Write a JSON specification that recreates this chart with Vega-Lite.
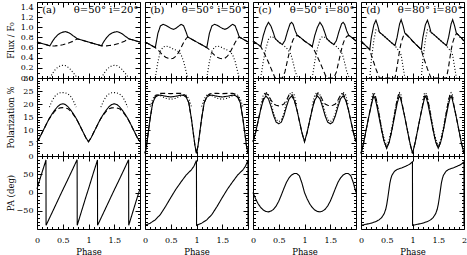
{
"$schema":"https://vega.github.io/schema/vega-lite/v6.json",
"padding":{"left":5,"top":1,"right":0,"bottom":0},
"bounds":"flush",
"columns":4,
"spacing":{"row":0,"column":5},
"datasets":{
"lab":[
{"p":"a","n":"(a)","m":"θ=50° i=20°"},
{"p":"b","n":"(b)","m":"θ=50° i=50°"},
{"p":"c","n":"(c)","m":"θ=50° i=80°"},
{"p":"d","n":"(d)","m":"θ=80° i=80°"}
],
"cv":[
{"p":"a","r":"f","x":0,"t":0.709,"d":0.709},
{"p":"a","r":"f","x":0.1,"t":0.68,"d":0.68},
{"p":"a","r":"f","x":0.2,"t":0.65,"d":0.65},
{"p":"a","r":"f","x":0.25,"t":0.635,"d":0.635,"o":0},
{"p":"a","r":"f","x":0.3,"t":0.723,"d":0.633,"o":0.09},
{"p":"a","r":"f","x":0.35,"t":0.795,"d":0.635,"o":0.16},
{"p":"a","r":"f","x":0.4,"t":0.85,"d":0.64,"o":0.21},
{"p":"a","r":"f","x":0.45,"t":0.885,"d":0.645,"o":0.24},
{"p":"a","r":"f","x":0.5,"t":0.905,"d":0.655,"o":0.25},
{"p":"a","r":"f","x":0.55,"t":0.915,"d":0.67,"o":0.245},
{"p":"a","r":"f","x":0.6,"t":0.9,"d":0.685,"o":0.215},
{"p":"a","r":"f","x":0.65,"t":0.875,"d":0.705,"o":0.17},
{"p":"a","r":"f","x":0.7,"t":0.835,"d":0.725,"o":0.11},
{"p":"a","r":"f","x":0.75,"t":0.8,"d":0.755,"o":0.045},
{"p":"a","r":"f","x":0.78,"t":0.775,"d":0.775,"o":0},
{"p":"a","r":"f","x":0.85,"t":0.754,"d":0.754},
{"p":"a","r":"f","x":0.9,"t":0.739,"d":0.739},
{"p":"a","r":"f","x":1,"t":0.709,"d":0.709},
{"p":"a","r":"f","x":1.1,"t":0.68,"d":0.68},
{"p":"a","r":"f","x":1.2,"t":0.65,"d":0.65},
{"p":"a","r":"f","x":1.25,"t":0.635,"d":0.635,"o":0},
{"p":"a","r":"f","x":1.3,"t":0.723,"d":0.633,"o":0.09},
{"p":"a","r":"f","x":1.35,"t":0.795,"d":0.635,"o":0.16},
{"p":"a","r":"f","x":1.4,"t":0.85,"d":0.64,"o":0.21},
{"p":"a","r":"f","x":1.45,"t":0.885,"d":0.645,"o":0.24},
{"p":"a","r":"f","x":1.5,"t":0.905,"d":0.655,"o":0.25},
{"p":"a","r":"f","x":1.55,"t":0.915,"d":0.67,"o":0.245},
{"p":"a","r":"f","x":1.6,"t":0.9,"d":0.685,"o":0.215},
{"p":"a","r":"f","x":1.65,"t":0.875,"d":0.705,"o":0.17},
{"p":"a","r":"f","x":1.7,"t":0.835,"d":0.725,"o":0.11},
{"p":"a","r":"f","x":1.75,"t":0.8,"d":0.755,"o":0.045},
{"p":"a","r":"f","x":1.78,"t":0.775,"d":0.775,"o":0},
{"p":"a","r":"f","x":1.85,"t":0.754,"d":0.754},
{"p":"a","r":"f","x":1.9,"t":0.739,"d":0.739},
{"p":"a","r":"f","x":2,"t":0.709,"d":0.709},

{"p":"b","r":"f","x":0,"t":0.713,"d":0.713},
{"p":"b","r":"f","x":0.1,"t":0.656,"d":0.656},
{"p":"b","r":"f","x":0.2,"t":0.6,"d":0.6,"o":0},
{"p":"b","r":"f","x":0.25,"t":0.88,"d":0.56,"o":0.32},
{"p":"b","r":"f","x":0.3,"t":1.03,"d":0.5,"o":0.53},
{"p":"b","r":"f","x":0.35,"t":1.06,"d":0.45,"o":0.61},
{"p":"b","r":"f","x":0.4,"t":1.04,"d":0.41,"o":0.63},
{"p":"b","r":"f","x":0.45,"t":1.01,"d":0.39,"o":0.62},
{"p":"b","r":"f","x":0.5,"t":0.98,"d":0.38,"o":0.6},
{"p":"b","r":"f","x":0.55,"t":0.96,"d":0.39,"o":0.57},
{"p":"b","r":"f","x":0.6,"t":0.98,"d":0.43,"o":0.55},
{"p":"b","r":"f","x":0.65,"t":1.02,"d":0.5,"o":0.52},
{"p":"b","r":"f","x":0.7,"t":1.06,"d":0.6,"o":0.46},
{"p":"b","r":"f","x":0.75,"t":1.03,"d":0.7,"o":0.33},
{"p":"b","r":"f","x":0.8,"t":0.9,"d":0.78,"o":0.12},
{"p":"b","r":"f","x":0.83,"t":0.81,"d":0.81,"o":0},
{"p":"b","r":"f","x":0.9,"t":0.77,"d":0.77},
{"p":"b","r":"f","x":1,"t":0.713,"d":0.713},
{"p":"b","r":"f","x":1.1,"t":0.656,"d":0.656},
{"p":"b","r":"f","x":1.2,"t":0.6,"d":0.6,"o":0},
{"p":"b","r":"f","x":1.25,"t":0.88,"d":0.56,"o":0.32},
{"p":"b","r":"f","x":1.3,"t":1.03,"d":0.5,"o":0.53},
{"p":"b","r":"f","x":1.35,"t":1.06,"d":0.45,"o":0.61},
{"p":"b","r":"f","x":1.4,"t":1.04,"d":0.41,"o":0.63},
{"p":"b","r":"f","x":1.45,"t":1.01,"d":0.39,"o":0.62},
{"p":"b","r":"f","x":1.5,"t":0.98,"d":0.38,"o":0.6},
{"p":"b","r":"f","x":1.55,"t":0.96,"d":0.39,"o":0.57},
{"p":"b","r":"f","x":1.6,"t":0.98,"d":0.43,"o":0.55},
{"p":"b","r":"f","x":1.65,"t":1.02,"d":0.5,"o":0.52},
{"p":"b","r":"f","x":1.7,"t":1.06,"d":0.6,"o":0.46},
{"p":"b","r":"f","x":1.75,"t":1.03,"d":0.7,"o":0.33},
{"p":"b","r":"f","x":1.8,"t":0.9,"d":0.78,"o":0.12},
{"p":"b","r":"f","x":1.83,"t":0.81,"d":0.81,"o":0},
{"p":"b","r":"f","x":1.9,"t":0.77,"d":0.77},
{"p":"b","r":"f","x":2,"t":0.713,"d":0.713},

{"p":"c","r":"f","x":0,"t":0.73,"d":0.73},
{"p":"c","r":"f","x":0.1,"t":0.66,"d":0.66},
{"p":"c","r":"f","x":0.15,"t":0.62,"d":0.62,"o":0},
{"p":"c","r":"f","x":0.2,"t":0.84,"d":0.53,"o":0.33},
{"p":"c","r":"f","x":0.25,"t":1,"d":0.42,"o":0.58},
{"p":"c","r":"f","x":0.3,"t":1.1,"d":0.31,"o":0.76},
{"p":"c","r":"f","x":0.35,"t":1.02,"d":0.19,"o":0.82},
{"p":"c","r":"f","x":0.4,"t":0.88,"d":0.07,"o":0.8},
{"p":"c","r":"f","x":0.43,"t":0.78,"d":0,"o":0.78},
{"p":"c","r":"f","x":0.5,"t":0.71,"d":0,"o":0.71},
{"p":"c","r":"f","x":0.57,"t":0.66,"d":0,"o":0.66},
{"p":"c","r":"f","x":0.62,"t":0.74,"d":0.12,"o":0.62},
{"p":"c","r":"f","x":0.67,"t":0.92,"d":0.35,"o":0.57},
{"p":"c","r":"f","x":0.72,"t":1.07,"d":0.57,"o":0.5},
{"p":"c","r":"f","x":0.75,"t":1.1,"d":0.68,"o":0.42},
{"p":"c","r":"f","x":0.78,"t":1.06,"d":0.76,"o":0.3},
{"p":"c","r":"f","x":0.82,"t":0.93,"d":0.82,"o":0.13},
{"p":"c","r":"f","x":0.86,"t":0.84,"d":0.84,"o":0.02},
{"p":"c","r":"f","x":0.88,"t":0.83,"d":0.83,"o":0},
{"p":"c","r":"f","x":0.95,"t":0.775,"d":0.775},
{"p":"c","r":"f","x":1,"t":0.73,"d":0.73},
{"p":"c","r":"f","x":1.1,"t":0.66,"d":0.66},
{"p":"c","r":"f","x":1.15,"t":0.62,"d":0.62,"o":0},
{"p":"c","r":"f","x":1.2,"t":0.84,"d":0.53,"o":0.33},
{"p":"c","r":"f","x":1.25,"t":1,"d":0.42,"o":0.58},
{"p":"c","r":"f","x":1.3,"t":1.1,"d":0.31,"o":0.76},
{"p":"c","r":"f","x":1.35,"t":1.02,"d":0.19,"o":0.82},
{"p":"c","r":"f","x":1.4,"t":0.88,"d":0.07,"o":0.8},
{"p":"c","r":"f","x":1.43,"t":0.78,"d":0,"o":0.78},
{"p":"c","r":"f","x":1.5,"t":0.71,"d":0,"o":0.71},
{"p":"c","r":"f","x":1.57,"t":0.66,"d":0,"o":0.66},
{"p":"c","r":"f","x":1.62,"t":0.74,"d":0.12,"o":0.62},
{"p":"c","r":"f","x":1.67,"t":0.92,"d":0.35,"o":0.57},
{"p":"c","r":"f","x":1.72,"t":1.07,"d":0.57,"o":0.5},
{"p":"c","r":"f","x":1.75,"t":1.1,"d":0.68,"o":0.42},
{"p":"c","r":"f","x":1.78,"t":1.06,"d":0.76,"o":0.3},
{"p":"c","r":"f","x":1.82,"t":0.93,"d":0.82,"o":0.13},
{"p":"c","r":"f","x":1.86,"t":0.84,"d":0.84,"o":0.02},
{"p":"c","r":"f","x":1.88,"t":0.83,"d":0.83,"o":0},
{"p":"c","r":"f","x":1.95,"t":0.775,"d":0.775},
{"p":"c","r":"f","x":2,"t":0.73,"d":0.73},

{"p":"d","r":"f","x":0,"t":0.73,"d":0.73},
{"p":"d","r":"f","x":0.1,"t":0.63,"d":0.63},
{"p":"d","r":"f","x":0.17,"t":0.56,"d":0.56,"o":0},
{"p":"d","r":"f","x":0.2,"t":0.8,"d":0.45,"o":0.35},
{"p":"d","r":"f","x":0.25,"t":1.05,"d":0.3,"o":0.75},
{"p":"d","r":"f","x":0.29,"t":1.14,"d":0.18,"o":0.95},
{"p":"d","r":"f","x":0.32,"t":1.05,"d":0.1,"o":0.95},
{"p":"d","r":"f","x":0.36,"t":0.9,"d":0,"o":0.9},
{"p":"d","r":"f","x":0.4,"t":0.87,"d":0,"o":0.87},
{"p":"d","r":"f","x":0.5,"t":0.78,"d":0,"o":0.78},
{"p":"d","r":"f","x":0.6,"t":0.69,"d":0,"o":0.69},
{"p":"d","r":"f","x":0.66,"t":0.64,"d":0,"o":0.64},
{"p":"d","r":"f","x":0.7,"t":0.8,"d":0.22,"o":0.58},
{"p":"d","r":"f","x":0.75,"t":1.07,"d":0.55,"o":0.52},
{"p":"d","r":"f","x":0.78,"t":1.15,"d":0.7,"o":0.45},
{"p":"d","r":"f","x":0.82,"t":1.02,"d":0.82,"o":0.2},
{"p":"d","r":"f","x":0.85,"t":0.89,"d":0.87,"o":0.02},
{"p":"d","r":"f","x":0.86,"t":0.88,"d":0.88,"o":0},
{"p":"d","r":"f","x":0.95,"t":0.79,"d":0.79},
{"p":"d","r":"f","x":1,"t":0.73,"d":0.73},
{"p":"d","r":"f","x":1.1,"t":0.63,"d":0.63},
{"p":"d","r":"f","x":1.17,"t":0.56,"d":0.56,"o":0},
{"p":"d","r":"f","x":1.2,"t":0.8,"d":0.45,"o":0.35},
{"p":"d","r":"f","x":1.25,"t":1.05,"d":0.3,"o":0.75},
{"p":"d","r":"f","x":1.29,"t":1.14,"d":0.18,"o":0.95},
{"p":"d","r":"f","x":1.32,"t":1.05,"d":0.1,"o":0.95},
{"p":"d","r":"f","x":1.36,"t":0.9,"d":0,"o":0.9},
{"p":"d","r":"f","x":1.4,"t":0.87,"d":0,"o":0.87},
{"p":"d","r":"f","x":1.5,"t":0.78,"d":0,"o":0.78},
{"p":"d","r":"f","x":1.6,"t":0.69,"d":0,"o":0.69},
{"p":"d","r":"f","x":1.66,"t":0.64,"d":0,"o":0.64},
{"p":"d","r":"f","x":1.7,"t":0.8,"d":0.22,"o":0.58},
{"p":"d","r":"f","x":1.75,"t":1.07,"d":0.55,"o":0.52},
{"p":"d","r":"f","x":1.78,"t":1.15,"d":0.7,"o":0.45},
{"p":"d","r":"f","x":1.82,"t":1.02,"d":0.82,"o":0.2},
{"p":"d","r":"f","x":1.85,"t":0.89,"d":0.87,"o":0.02},
{"p":"d","r":"f","x":1.86,"t":0.88,"d":0.88,"o":0},
{"p":"d","r":"f","x":1.95,"t":0.79,"d":0.79},
{"p":"d","r":"f","x":2,"t":0.73,"d":0.73},

{"p":"a","r":"q","x":0,"t":5.5,"d":5.5},
{"p":"a","r":"q","x":0.05,"t":7,"d":7},
{"p":"a","r":"q","x":0.1,"t":9,"d":9},
{"p":"a","r":"q","x":0.15,"t":11,"d":11},
{"p":"a","r":"q","x":0.2,"t":13,"d":13},
{"p":"a","r":"q","x":0.24,"t":14.5,"d":14.4,"o":18.8},
{"p":"a","r":"q","x":0.3,"t":16.4,"d":16.1,"o":21.5},
{"p":"a","r":"q","x":0.35,"t":17.8,"d":17.3,"o":23},
{"p":"a","r":"q","x":0.4,"t":19,"d":18.2,"o":23.9},
{"p":"a","r":"q","x":0.45,"t":19.8,"d":18.5,"o":24.3},
{"p":"a","r":"q","x":0.5,"t":20.1,"d":18.6,"o":24.4},
{"p":"a","r":"q","x":0.55,"t":19.8,"d":18.5,"o":24.3},
{"p":"a","r":"q","x":0.6,"t":19,"d":18.2,"o":23.9},
{"p":"a","r":"q","x":0.65,"t":17.8,"d":17.3,"o":23},
{"p":"a","r":"q","x":0.7,"t":16.4,"d":16.1,"o":21.5},
{"p":"a","r":"q","x":0.76,"t":14.5,"d":14.4,"o":18.8},
{"p":"a","r":"q","x":0.8,"t":13,"d":13},
{"p":"a","r":"q","x":0.85,"t":11,"d":11},
{"p":"a","r":"q","x":0.9,"t":9,"d":9},
{"p":"a","r":"q","x":0.95,"t":7,"d":7},
{"p":"a","r":"q","x":1,"t":5.5,"d":5.5},
{"p":"a","r":"q","x":1.05,"t":7,"d":7},
{"p":"a","r":"q","x":1.1,"t":9,"d":9},
{"p":"a","r":"q","x":1.15,"t":11,"d":11},
{"p":"a","r":"q","x":1.2,"t":13,"d":13},
{"p":"a","r":"q","x":1.24,"t":14.5,"d":14.4,"o":18.8},
{"p":"a","r":"q","x":1.3,"t":16.4,"d":16.1,"o":21.5},
{"p":"a","r":"q","x":1.35,"t":17.8,"d":17.3,"o":23},
{"p":"a","r":"q","x":1.4,"t":19,"d":18.2,"o":23.9},
{"p":"a","r":"q","x":1.45,"t":19.8,"d":18.5,"o":24.3},
{"p":"a","r":"q","x":1.5,"t":20.1,"d":18.6,"o":24.4},
{"p":"a","r":"q","x":1.55,"t":19.8,"d":18.5,"o":24.3},
{"p":"a","r":"q","x":1.6,"t":19,"d":18.2,"o":23.9},
{"p":"a","r":"q","x":1.65,"t":17.8,"d":17.3,"o":23},
{"p":"a","r":"q","x":1.7,"t":16.4,"d":16.1,"o":21.5},
{"p":"a","r":"q","x":1.76,"t":14.5,"d":14.4,"o":18.8},
{"p":"a","r":"q","x":1.8,"t":13,"d":13},
{"p":"a","r":"q","x":1.85,"t":11,"d":11},
{"p":"a","r":"q","x":1.9,"t":9,"d":9},
{"p":"a","r":"q","x":1.95,"t":7,"d":7},
{"p":"a","r":"q","x":2,"t":5.5,"d":5.5},

{"p":"b","r":"q","x":0,"t":1,"d":1},
{"p":"b","r":"q","x":0.03,"t":4,"d":4},
{"p":"b","r":"q","x":0.06,"t":8.5,"d":8.5},
{"p":"b","r":"q","x":0.1,"t":14.5,"d":14.5,"o":19},
{"p":"b","r":"q","x":0.15,"t":20.5,"d":20.5,"o":22},
{"p":"b","r":"q","x":0.2,"t":22.6,"d":23,"o":23.4},
{"p":"b","r":"q","x":0.25,"t":23.3,"d":23.8,"o":23.6},
{"p":"b","r":"q","x":0.3,"t":23.4,"d":24.1,"o":23.2},
{"p":"b","r":"q","x":0.4,"t":23,"d":24.1,"o":22.2},
{"p":"b","r":"q","x":0.5,"t":22.7,"d":24,"o":21.8},
{"p":"b","r":"q","x":0.6,"t":23,"d":24.1,"o":22.2},
{"p":"b","r":"q","x":0.7,"t":23.4,"d":24.1,"o":23.2},
{"p":"b","r":"q","x":0.75,"t":23.3,"d":23.8,"o":23.6},
{"p":"b","r":"q","x":0.8,"t":22.6,"d":23,"o":23.4},
{"p":"b","r":"q","x":0.85,"t":20.5,"d":20.5,"o":22},
{"p":"b","r":"q","x":0.9,"t":14.5,"d":14.5,"o":19},
{"p":"b","r":"q","x":0.94,"t":8.5,"d":8.5},
{"p":"b","r":"q","x":0.97,"t":4,"d":4},
{"p":"b","r":"q","x":1,"t":1,"d":1},
{"p":"b","r":"q","x":1.03,"t":4,"d":4},
{"p":"b","r":"q","x":1.06,"t":8.5,"d":8.5},
{"p":"b","r":"q","x":1.1,"t":14.5,"d":14.5,"o":19},
{"p":"b","r":"q","x":1.15,"t":20.5,"d":20.5,"o":22},
{"p":"b","r":"q","x":1.2,"t":22.6,"d":23,"o":23.4},
{"p":"b","r":"q","x":1.25,"t":23.3,"d":23.8,"o":23.6},
{"p":"b","r":"q","x":1.3,"t":23.4,"d":24.1,"o":23.2},
{"p":"b","r":"q","x":1.4,"t":23,"d":24.1,"o":22.2},
{"p":"b","r":"q","x":1.5,"t":22.7,"d":24,"o":21.8},
{"p":"b","r":"q","x":1.6,"t":23,"d":24.1,"o":22.2},
{"p":"b","r":"q","x":1.7,"t":23.4,"d":24.1,"o":23.2},
{"p":"b","r":"q","x":1.75,"t":23.3,"d":23.8,"o":23.6},
{"p":"b","r":"q","x":1.8,"t":22.6,"d":23,"o":23.4},
{"p":"b","r":"q","x":1.85,"t":20.5,"d":20.5,"o":22},
{"p":"b","r":"q","x":1.9,"t":14.5,"d":14.5,"o":19},
{"p":"b","r":"q","x":1.94,"t":8.5,"d":8.5},
{"p":"b","r":"q","x":1.97,"t":4,"d":4},
{"p":"b","r":"q","x":2,"t":1,"d":1},

{"p":"c","r":"q","x":0,"t":5.5,"d":5.5},
{"p":"c","r":"q","x":0.05,"t":9,"d":9},
{"p":"c","r":"q","x":0.1,"t":13.5,"d":13.5},
{"p":"c","r":"q","x":0.15,"t":18,"d":18,"o":19.5},
{"p":"c","r":"q","x":0.2,"t":21.5,"d":22,"o":23.5},
{"p":"c","r":"q","x":0.25,"t":23.1,"d":24,"o":24.6},
{"p":"c","r":"q","x":0.3,"t":22,"d":23.5,"o":23.5},
{"p":"c","r":"q","x":0.35,"t":19,"d":21.5,"o":20.5},
{"p":"c","r":"q","x":0.4,"t":15.5,"d":20,"o":16.5},
{"p":"c","r":"q","x":0.45,"t":13,"d":19.5,"o":14},
{"p":"c","r":"q","x":0.5,"t":12.4,"d":19.3,"o":13.2},
{"p":"c","r":"q","x":0.55,"t":13,"d":19.5,"o":14},
{"p":"c","r":"q","x":0.6,"t":15.5,"d":20,"o":16.5},
{"p":"c","r":"q","x":0.65,"t":19,"d":21.5,"o":20.5},
{"p":"c","r":"q","x":0.7,"t":22,"d":23.5,"o":23.5},
{"p":"c","r":"q","x":0.75,"t":23.1,"d":24,"o":24.6},
{"p":"c","r":"q","x":0.8,"t":21.5,"d":22,"o":23.5},
{"p":"c","r":"q","x":0.85,"t":18,"d":18,"o":19.5},
{"p":"c","r":"q","x":0.9,"t":13.5,"d":13.5},
{"p":"c","r":"q","x":0.95,"t":9,"d":9},
{"p":"c","r":"q","x":1,"t":5.5,"d":5.5},
{"p":"c","r":"q","x":1.05,"t":9,"d":9},
{"p":"c","r":"q","x":1.1,"t":13.5,"d":13.5},
{"p":"c","r":"q","x":1.15,"t":18,"d":18,"o":19.5},
{"p":"c","r":"q","x":1.2,"t":21.5,"d":22,"o":23.5},
{"p":"c","r":"q","x":1.25,"t":23.1,"d":24,"o":24.6},
{"p":"c","r":"q","x":1.3,"t":22,"d":23.5,"o":23.5},
{"p":"c","r":"q","x":1.35,"t":19,"d":21.5,"o":20.5},
{"p":"c","r":"q","x":1.4,"t":15.5,"d":20,"o":16.5},
{"p":"c","r":"q","x":1.45,"t":13,"d":19.5,"o":14},
{"p":"c","r":"q","x":1.5,"t":12.4,"d":19.3,"o":13.2},
{"p":"c","r":"q","x":1.55,"t":13,"d":19.5,"o":14},
{"p":"c","r":"q","x":1.6,"t":15.5,"d":20,"o":16.5},
{"p":"c","r":"q","x":1.65,"t":19,"d":21.5,"o":20.5},
{"p":"c","r":"q","x":1.7,"t":22,"d":23.5,"o":23.5},
{"p":"c","r":"q","x":1.75,"t":23.1,"d":24,"o":24.6},
{"p":"c","r":"q","x":1.8,"t":21.5,"d":22,"o":23.5},
{"p":"c","r":"q","x":1.85,"t":18,"d":18,"o":19.5},
{"p":"c","r":"q","x":1.9,"t":13.5,"d":13.5},
{"p":"c","r":"q","x":1.95,"t":9,"d":9},
{"p":"c","r":"q","x":2,"t":5.5,"d":5.5},

{"p":"d","r":"q","x":0,"t":1,"d":1},
{"p":"d","r":"q","x":0.05,"t":5,"d":5},
{"p":"d","r":"q","x":0.1,"t":10,"d":10},
{"p":"d","r":"q","x":0.15,"t":15,"d":15},
{"p":"d","r":"q","x":0.2,"t":19.5,"d":20,"o":21.5},
{"p":"d","r":"q","x":0.23,"t":22,"d":22.8,"o":24},
{"p":"d","r":"q","x":0.25,"t":23,"d":23.8,"o":24.4},
{"p":"d","r":"q","x":0.27,"t":22.3,"d":23.6,"o":23.8},
{"p":"d","r":"q","x":0.3,"t":20,"d":21.5,"o":21.5},
{"p":"d","r":"q","x":0.35,"t":15,"d":16,"o":16.5},
{"p":"d","r":"q","x":0.4,"t":10,"d":10,"o":11},
{"p":"d","r":"q","x":0.45,"t":5.5,"d":5.5,"o":6.5},
{"p":"d","r":"q","x":0.5,"t":3,"d":3,"o":4},
{"p":"d","r":"q","x":0.55,"t":5.5,"d":5.5,"o":6.5},
{"p":"d","r":"q","x":0.6,"t":10,"d":10,"o":11},
{"p":"d","r":"q","x":0.65,"t":15,"d":16,"o":16.5},
{"p":"d","r":"q","x":0.7,"t":20,"d":21.5,"o":21.5},
{"p":"d","r":"q","x":0.73,"t":22.3,"d":23.6,"o":23.8},
{"p":"d","r":"q","x":0.75,"t":23,"d":23.8,"o":24.4},
{"p":"d","r":"q","x":0.77,"t":22,"d":22.8,"o":24},
{"p":"d","r":"q","x":0.8,"t":19.5,"d":20,"o":21.5},
{"p":"d","r":"q","x":0.85,"t":15,"d":15},
{"p":"d","r":"q","x":0.9,"t":10,"d":10},
{"p":"d","r":"q","x":0.95,"t":5,"d":5},
{"p":"d","r":"q","x":1,"t":1,"d":1},
{"p":"d","r":"q","x":1.05,"t":5,"d":5},
{"p":"d","r":"q","x":1.1,"t":10,"d":10},
{"p":"d","r":"q","x":1.15,"t":15,"d":15},
{"p":"d","r":"q","x":1.2,"t":19.5,"d":20,"o":21.5},
{"p":"d","r":"q","x":1.23,"t":22,"d":22.8,"o":24},
{"p":"d","r":"q","x":1.25,"t":23,"d":23.8,"o":24.4},
{"p":"d","r":"q","x":1.27,"t":22.3,"d":23.6,"o":23.8},
{"p":"d","r":"q","x":1.3,"t":20,"d":21.5,"o":21.5},
{"p":"d","r":"q","x":1.35,"t":15,"d":16,"o":16.5},
{"p":"d","r":"q","x":1.4,"t":10,"d":10,"o":11},
{"p":"d","r":"q","x":1.45,"t":5.5,"d":5.5,"o":6.5},
{"p":"d","r":"q","x":1.5,"t":3,"d":3,"o":4},
{"p":"d","r":"q","x":1.55,"t":5.5,"d":5.5,"o":6.5},
{"p":"d","r":"q","x":1.6,"t":10,"d":10,"o":11},
{"p":"d","r":"q","x":1.65,"t":15,"d":16,"o":16.5},
{"p":"d","r":"q","x":1.7,"t":20,"d":21.5,"o":21.5},
{"p":"d","r":"q","x":1.73,"t":22.3,"d":23.6,"o":23.8},
{"p":"d","r":"q","x":1.75,"t":23,"d":23.8,"o":24.4},
{"p":"d","r":"q","x":1.77,"t":22,"d":22.8,"o":24},
{"p":"d","r":"q","x":1.8,"t":19.5,"d":20,"o":21.5},
{"p":"d","r":"q","x":1.85,"t":15,"d":15},
{"p":"d","r":"q","x":1.9,"t":10,"d":10},
{"p":"d","r":"q","x":1.95,"t":5,"d":5},
{"p":"d","r":"q","x":2,"t":1,"d":1},

{"p":"a","r":"a","x":0,"t":10},
{"p":"a","r":"a","x":0.05,"t":33},
{"p":"a","r":"a","x":0.1,"t":56},
{"p":"a","r":"a","x":0.15,"t":78},
{"p":"a","r":"a","x":0.174,"t":89},
{"p":"a","r":"a","x":0.176,"t":-90},
{"p":"a","r":"a","x":0.3,"t":-53},
{"p":"a","r":"a","x":0.4,"t":-23},
{"p":"a","r":"a","x":0.5,"t":7},
{"p":"a","r":"a","x":0.6,"t":36},
{"p":"a","r":"a","x":0.7,"t":66},
{"p":"a","r":"a","x":0.779,"t":90},
{"p":"a","r":"a","x":0.781,"t":-90},
{"p":"a","r":"a","x":0.85,"t":-58},
{"p":"a","r":"a","x":0.9,"t":-35},
{"p":"a","r":"a","x":0.95,"t":-12},
{"p":"a","r":"a","x":1,"t":10},
{"p":"a","r":"a","x":1.05,"t":33},
{"p":"a","r":"a","x":1.1,"t":56},
{"p":"a","r":"a","x":1.15,"t":78},
{"p":"a","r":"a","x":1.174,"t":89},
{"p":"a","r":"a","x":1.176,"t":-90},
{"p":"a","r":"a","x":1.3,"t":-53},
{"p":"a","r":"a","x":1.4,"t":-23},
{"p":"a","r":"a","x":1.5,"t":7},
{"p":"a","r":"a","x":1.6,"t":36},
{"p":"a","r":"a","x":1.7,"t":66},
{"p":"a","r":"a","x":1.779,"t":90},
{"p":"a","r":"a","x":1.781,"t":-90},
{"p":"a","r":"a","x":1.85,"t":-58},
{"p":"a","r":"a","x":1.9,"t":-35},
{"p":"a","r":"a","x":1.95,"t":-12},
{"p":"a","r":"a","x":2,"t":10},

{"p":"b","r":"a","x":0,"t":-90},
{"p":"b","r":"a","x":0.1,"t":-84},
{"p":"b","r":"a","x":0.2,"t":-75},
{"p":"b","r":"a","x":0.3,"t":-60},
{"p":"b","r":"a","x":0.4,"t":-38},
{"p":"b","r":"a","x":0.5,"t":-14},
{"p":"b","r":"a","x":0.6,"t":9},
{"p":"b","r":"a","x":0.7,"t":29},
{"p":"b","r":"a","x":0.8,"t":48},
{"p":"b","r":"a","x":0.9,"t":62},
{"p":"b","r":"a","x":0.95,"t":72},
{"p":"b","r":"a","x":0.999,"t":88},
{"p":"b","r":"a","x":1.001,"t":-90},
{"p":"b","r":"a","x":1.1,"t":-84},
{"p":"b","r":"a","x":1.2,"t":-75},
{"p":"b","r":"a","x":1.3,"t":-60},
{"p":"b","r":"a","x":1.4,"t":-38},
{"p":"b","r":"a","x":1.5,"t":-14},
{"p":"b","r":"a","x":1.6,"t":9},
{"p":"b","r":"a","x":1.7,"t":29},
{"p":"b","r":"a","x":1.8,"t":48},
{"p":"b","r":"a","x":1.9,"t":62},
{"p":"b","r":"a","x":1.95,"t":72},
{"p":"b","r":"a","x":1.999,"t":88},
{"p":"b","r":"a","x":2,"t":-90},

{"p":"c","r":"a","x":0,"t":0},
{"p":"c","r":"a","x":0.05,"t":-17},
{"p":"c","r":"a","x":0.1,"t":-31},
{"p":"c","r":"a","x":0.15,"t":-41},
{"p":"c","r":"a","x":0.2,"t":-48},
{"p":"c","r":"a","x":0.25,"t":-52},
{"p":"c","r":"a","x":0.3,"t":-53},
{"p":"c","r":"a","x":0.35,"t":-51},
{"p":"c","r":"a","x":0.4,"t":-46},
{"p":"c","r":"a","x":0.45,"t":-37},
{"p":"c","r":"a","x":0.5,"t":-24},
{"p":"c","r":"a","x":0.55,"t":-7},
{"p":"c","r":"a","x":0.6,"t":11},
{"p":"c","r":"a","x":0.65,"t":28},
{"p":"c","r":"a","x":0.7,"t":40},
{"p":"c","r":"a","x":0.75,"t":48},
{"p":"c","r":"a","x":0.8,"t":52},
{"p":"c","r":"a","x":0.85,"t":52},
{"p":"c","r":"a","x":0.9,"t":46},
{"p":"c","r":"a","x":0.95,"t":26},
{"p":"c","r":"a","x":1,"t":0},
{"p":"c","r":"a","x":1.05,"t":-17},
{"p":"c","r":"a","x":1.1,"t":-31},
{"p":"c","r":"a","x":1.15,"t":-41},
{"p":"c","r":"a","x":1.2,"t":-48},
{"p":"c","r":"a","x":1.25,"t":-52},
{"p":"c","r":"a","x":1.3,"t":-53},
{"p":"c","r":"a","x":1.35,"t":-51},
{"p":"c","r":"a","x":1.4,"t":-46},
{"p":"c","r":"a","x":1.45,"t":-37},
{"p":"c","r":"a","x":1.5,"t":-24},
{"p":"c","r":"a","x":1.55,"t":-7},
{"p":"c","r":"a","x":1.6,"t":11},
{"p":"c","r":"a","x":1.65,"t":28},
{"p":"c","r":"a","x":1.7,"t":40},
{"p":"c","r":"a","x":1.75,"t":48},
{"p":"c","r":"a","x":1.8,"t":52},
{"p":"c","r":"a","x":1.85,"t":52},
{"p":"c","r":"a","x":1.9,"t":46},
{"p":"c","r":"a","x":1.95,"t":26},
{"p":"c","r":"a","x":2,"t":0},

{"p":"d","r":"a","x":0,"t":-90},
{"p":"d","r":"a","x":0.1,"t":-87},
{"p":"d","r":"a","x":0.2,"t":-84},
{"p":"d","r":"a","x":0.3,"t":-79},
{"p":"d","r":"a","x":0.35,"t":-75},
{"p":"d","r":"a","x":0.4,"t":-69},
{"p":"d","r":"a","x":0.45,"t":-58},
{"p":"d","r":"a","x":0.48,"t":-46},
{"p":"d","r":"a","x":0.5,"t":-33},
{"p":"d","r":"a","x":0.52,"t":-15},
{"p":"d","r":"a","x":0.54,"t":5},
{"p":"d","r":"a","x":0.56,"t":25},
{"p":"d","r":"a","x":0.58,"t":38},
{"p":"d","r":"a","x":0.6,"t":47},
{"p":"d","r":"a","x":0.65,"t":58},
{"p":"d","r":"a","x":0.7,"t":63},
{"p":"d","r":"a","x":0.8,"t":68},
{"p":"d","r":"a","x":0.9,"t":74},
{"p":"d","r":"a","x":0.95,"t":78},
{"p":"d","r":"a","x":0.999,"t":84},
{"p":"d","r":"a","x":1.001,"t":-90},
{"p":"d","r":"a","x":1.1,"t":-87},
{"p":"d","r":"a","x":1.2,"t":-84},
{"p":"d","r":"a","x":1.3,"t":-79},
{"p":"d","r":"a","x":1.35,"t":-75},
{"p":"d","r":"a","x":1.4,"t":-69},
{"p":"d","r":"a","x":1.45,"t":-58},
{"p":"d","r":"a","x":1.48,"t":-46},
{"p":"d","r":"a","x":1.5,"t":-33},
{"p":"d","r":"a","x":1.52,"t":-15},
{"p":"d","r":"a","x":1.54,"t":5},
{"p":"d","r":"a","x":1.56,"t":25},
{"p":"d","r":"a","x":1.58,"t":38},
{"p":"d","r":"a","x":1.6,"t":47},
{"p":"d","r":"a","x":1.65,"t":58},
{"p":"d","r":"a","x":1.7,"t":63},
{"p":"d","r":"a","x":1.8,"t":68},
{"p":"d","r":"a","x":1.9,"t":74},
{"p":"d","r":"a","x":1.95,"t":78},
{"p":"d","r":"a","x":1.999,"t":84},
{"p":"d","r":"a","x":2,"t":-90}
]
},
"concat":[
{"width":103,"height":76,"layer":[
 {"data":{"name":"cv"},"transform":[{"filter":"datum.p=='a'&&datum.r=='f'"},{"fold":["t","d","o"],"as":["s","v"]}],
  "mark":{"type":"line","stroke":"black","strokeWidth":1.1,"invalid":"break-paths-show-domains"},
  "encoding":{
   "x":{"field":"x","type":"quantitative","scale":{"domain":[0,2],"nice":false},"axis":{"orient":"bottom","values":[0,0.1,0.2,0.3,0.4,0.5,0.6,0.7,0.8,0.9,1,1.1,1.2,1.3,1.4,1.5,1.6,1.7,1.8,1.9,2],"tickSize":{"condition":{"test":"abs(datum.value*2-round(datum.value*2))<0.01","value":-5},"value":-2.5},"labels":false,"title":null}},
   "y":{"field":"v","type":"quantitative","scale":{"domain":[0,1.5],"nice":false},"axis":{"orient":"left","values":[0,0.1,0.2,0.3,0.4,0.5,0.6,0.7,0.8,0.9,1,1.1,1.2,1.3,1.4],"tickSize":{"condition":{"test":"abs(datum.value*5-round(datum.value*5))<0.01","value":-5},"value":-2.5},"labelExpr":"abs(datum.value*5-round(datum.value*5))<0.01?format(datum.value,'.1f'):''","labelPadding":9,"title":"Flux / F₀","titleX":-22}},
   "strokeDash":{"field":"s","type":"nominal","scale":{"domain":["t","d","o"],"range":[[1,0],[5,3],[1,2]]},"legend":null}}},
 {"data":{"name":"cv"},"transform":[{"filter":"datum.p=='a'&&datum.r=='f'"}],"mark":{"type":"point","opacity":0},
  "encoding":{
   "x":{"field":"x","type":"quantitative","scale":{"domain":[0,2],"nice":false},"axis":{"orient":"top","values":[0,0.1,0.2,0.3,0.4,0.5,0.6,0.7,0.8,0.9,1,1.1,1.2,1.3,1.4,1.5,1.6,1.7,1.8,1.9,2],"tickSize":{"condition":{"test":"abs(datum.value*2-round(datum.value*2))<0.01","value":-5},"value":-2.5},"labels":false,"title":null}},
   "y":{"field":"t","type":"quantitative","scale":{"domain":[0,1.5],"nice":false},"axis":{"orient":"right","values":[0,0.1,0.2,0.3,0.4,0.5,0.6,0.7,0.8,0.9,1,1.1,1.2,1.3,1.4],"tickSize":{"condition":{"test":"abs(datum.value*5-round(datum.value*5))<0.01","value":-5},"value":-2.5},"labels":false,"title":null}}}},
 {"data":{"name":"lab"},"transform":[{"filter":"datum.p=='a'"}],"mark":{"type":"text","align":"left","baseline":"alphabetic","fontSize":10,"font":"DejaVu Serif"},"encoding":{"x":{"datum":0.1,"axis":null},"y":{"datum":1.29,"axis":null},"text":{"field":"n"}}},
 {"data":{"name":"lab"},"transform":[{"filter":"datum.p=='a'"}],"mark":{"type":"text","align":"right","baseline":"alphabetic","fontSize":10,"font":"DejaVu Serif"},"encoding":{"x":{"datum":1.97,"axis":null},"y":{"datum":1.29,"axis":null},"text":{"field":"m"}}}
]},
{"width":103,"height":76,"layer":[
 {"data":{"name":"cv"},"transform":[{"filter":"datum.p=='b'&&datum.r=='f'"},{"fold":["t","d","o"],"as":["s","v"]}],
  "mark":{"type":"line","stroke":"black","strokeWidth":1.1,"invalid":"break-paths-show-domains"},
  "encoding":{
   "x":{"field":"x","type":"quantitative","scale":{"domain":[0,2],"nice":false},"axis":{"orient":"bottom","values":[0,0.1,0.2,0.3,0.4,0.5,0.6,0.7,0.8,0.9,1,1.1,1.2,1.3,1.4,1.5,1.6,1.7,1.8,1.9,2],"tickSize":{"condition":{"test":"abs(datum.value*2-round(datum.value*2))<0.01","value":-5},"value":-2.5},"labels":false,"title":null}},
   "y":{"field":"v","type":"quantitative","scale":{"domain":[0,1.5],"nice":false},"axis":{"orient":"left","values":[0,0.1,0.2,0.3,0.4,0.5,0.6,0.7,0.8,0.9,1,1.1,1.2,1.3,1.4],"tickSize":{"condition":{"test":"abs(datum.value*5-round(datum.value*5))<0.01","value":-5},"value":-2.5},"labels":false,"title":null}},
   "strokeDash":{"field":"s","type":"nominal","scale":{"domain":["t","d","o"],"range":[[1,0],[5,3],[1,2]]},"legend":null}}},
 {"data":{"name":"cv"},"transform":[{"filter":"datum.p=='b'&&datum.r=='f'"}],"mark":{"type":"point","opacity":0},
  "encoding":{
   "x":{"field":"x","type":"quantitative","scale":{"domain":[0,2],"nice":false},"axis":{"orient":"top","values":[0,0.1,0.2,0.3,0.4,0.5,0.6,0.7,0.8,0.9,1,1.1,1.2,1.3,1.4,1.5,1.6,1.7,1.8,1.9,2],"tickSize":{"condition":{"test":"abs(datum.value*2-round(datum.value*2))<0.01","value":-5},"value":-2.5},"labels":false,"title":null}},
   "y":{"field":"t","type":"quantitative","scale":{"domain":[0,1.5],"nice":false},"axis":{"orient":"right","values":[0,0.1,0.2,0.3,0.4,0.5,0.6,0.7,0.8,0.9,1,1.1,1.2,1.3,1.4],"tickSize":{"condition":{"test":"abs(datum.value*5-round(datum.value*5))<0.01","value":-5},"value":-2.5},"labels":false,"title":null}}}},
 {"data":{"name":"lab"},"transform":[{"filter":"datum.p=='b'"}],"mark":{"type":"text","align":"left","baseline":"alphabetic","fontSize":10,"font":"DejaVu Serif"},"encoding":{"x":{"datum":0.1,"axis":null},"y":{"datum":1.29,"axis":null},"text":{"field":"n"}}},
 {"data":{"name":"lab"},"transform":[{"filter":"datum.p=='b'"}],"mark":{"type":"text","align":"right","baseline":"alphabetic","fontSize":10,"font":"DejaVu Serif"},"encoding":{"x":{"datum":1.97,"axis":null},"y":{"datum":1.29,"axis":null},"text":{"field":"m"}}}
]},
{"width":103,"height":76,"layer":[
 {"data":{"name":"cv"},"transform":[{"filter":"datum.p=='c'&&datum.r=='f'"},{"fold":["t","d","o"],"as":["s","v"]}],
  "mark":{"type":"line","stroke":"black","strokeWidth":1.1,"invalid":"break-paths-show-domains"},
  "encoding":{
   "x":{"field":"x","type":"quantitative","scale":{"domain":[0,2],"nice":false},"axis":{"orient":"bottom","values":[0,0.1,0.2,0.3,0.4,0.5,0.6,0.7,0.8,0.9,1,1.1,1.2,1.3,1.4,1.5,1.6,1.7,1.8,1.9,2],"tickSize":{"condition":{"test":"abs(datum.value*2-round(datum.value*2))<0.01","value":-5},"value":-2.5},"labels":false,"title":null}},
   "y":{"field":"v","type":"quantitative","scale":{"domain":[0,1.5],"nice":false},"axis":{"orient":"left","values":[0,0.1,0.2,0.3,0.4,0.5,0.6,0.7,0.8,0.9,1,1.1,1.2,1.3,1.4],"tickSize":{"condition":{"test":"abs(datum.value*5-round(datum.value*5))<0.01","value":-5},"value":-2.5},"labels":false,"title":null}},
   "strokeDash":{"field":"s","type":"nominal","scale":{"domain":["t","d","o"],"range":[[1,0],[5,3],[1,2]]},"legend":null}}},
 {"data":{"name":"cv"},"transform":[{"filter":"datum.p=='c'&&datum.r=='f'"}],"mark":{"type":"point","opacity":0},
  "encoding":{
   "x":{"field":"x","type":"quantitative","scale":{"domain":[0,2],"nice":false},"axis":{"orient":"top","values":[0,0.1,0.2,0.3,0.4,0.5,0.6,0.7,0.8,0.9,1,1.1,1.2,1.3,1.4,1.5,1.6,1.7,1.8,1.9,2],"tickSize":{"condition":{"test":"abs(datum.value*2-round(datum.value*2))<0.01","value":-5},"value":-2.5},"labels":false,"title":null}},
   "y":{"field":"t","type":"quantitative","scale":{"domain":[0,1.5],"nice":false},"axis":{"orient":"right","values":[0,0.1,0.2,0.3,0.4,0.5,0.6,0.7,0.8,0.9,1,1.1,1.2,1.3,1.4],"tickSize":{"condition":{"test":"abs(datum.value*5-round(datum.value*5))<0.01","value":-5},"value":-2.5},"labels":false,"title":null}}}},
 {"data":{"name":"lab"},"transform":[{"filter":"datum.p=='c'"}],"mark":{"type":"text","align":"left","baseline":"alphabetic","fontSize":10,"font":"DejaVu Serif"},"encoding":{"x":{"datum":0.1,"axis":null},"y":{"datum":1.29,"axis":null},"text":{"field":"n"}}},
 {"data":{"name":"lab"},"transform":[{"filter":"datum.p=='c'"}],"mark":{"type":"text","align":"right","baseline":"alphabetic","fontSize":10,"font":"DejaVu Serif"},"encoding":{"x":{"datum":1.97,"axis":null},"y":{"datum":1.29,"axis":null},"text":{"field":"m"}}}
]},
{"width":103,"height":76,"layer":[
 {"data":{"name":"cv"},"transform":[{"filter":"datum.p=='d'&&datum.r=='f'"},{"fold":["t","d","o"],"as":["s","v"]}],
  "mark":{"type":"line","stroke":"black","strokeWidth":1.1,"invalid":"break-paths-show-domains"},
  "encoding":{
   "x":{"field":"x","type":"quantitative","scale":{"domain":[0,2],"nice":false},"axis":{"orient":"bottom","values":[0,0.1,0.2,0.3,0.4,0.5,0.6,0.7,0.8,0.9,1,1.1,1.2,1.3,1.4,1.5,1.6,1.7,1.8,1.9,2],"tickSize":{"condition":{"test":"abs(datum.value*2-round(datum.value*2))<0.01","value":-5},"value":-2.5},"labels":false,"title":null}},
   "y":{"field":"v","type":"quantitative","scale":{"domain":[0,1.5],"nice":false},"axis":{"orient":"left","values":[0,0.1,0.2,0.3,0.4,0.5,0.6,0.7,0.8,0.9,1,1.1,1.2,1.3,1.4],"tickSize":{"condition":{"test":"abs(datum.value*5-round(datum.value*5))<0.01","value":-5},"value":-2.5},"labels":false,"title":null}},
   "strokeDash":{"field":"s","type":"nominal","scale":{"domain":["t","d","o"],"range":[[1,0],[5,3],[1,2]]},"legend":null}}},
 {"data":{"name":"cv"},"transform":[{"filter":"datum.p=='d'&&datum.r=='f'"}],"mark":{"type":"point","opacity":0},
  "encoding":{
   "x":{"field":"x","type":"quantitative","scale":{"domain":[0,2],"nice":false},"axis":{"orient":"top","values":[0,0.1,0.2,0.3,0.4,0.5,0.6,0.7,0.8,0.9,1,1.1,1.2,1.3,1.4,1.5,1.6,1.7,1.8,1.9,2],"tickSize":{"condition":{"test":"abs(datum.value*2-round(datum.value*2))<0.01","value":-5},"value":-2.5},"labels":false,"title":null}},
   "y":{"field":"t","type":"quantitative","scale":{"domain":[0,1.5],"nice":false},"axis":{"orient":"right","values":[0,0.1,0.2,0.3,0.4,0.5,0.6,0.7,0.8,0.9,1,1.1,1.2,1.3,1.4],"tickSize":{"condition":{"test":"abs(datum.value*5-round(datum.value*5))<0.01","value":-5},"value":-2.5},"labels":false,"title":null}}}},
 {"data":{"name":"lab"},"transform":[{"filter":"datum.p=='d'"}],"mark":{"type":"text","align":"left","baseline":"alphabetic","fontSize":10,"font":"DejaVu Serif"},"encoding":{"x":{"datum":0.1,"axis":null},"y":{"datum":1.29,"axis":null},"text":{"field":"n"}}},
 {"data":{"name":"lab"},"transform":[{"filter":"datum.p=='d'"}],"mark":{"type":"text","align":"right","baseline":"alphabetic","fontSize":10,"font":"DejaVu Serif"},"encoding":{"x":{"datum":1.97,"axis":null},"y":{"datum":1.29,"axis":null},"text":{"field":"m"}}}
]},

{"width":103,"height":78,"layer":[
 {"data":{"name":"cv"},"transform":[{"filter":"datum.p=='a'&&datum.r=='q'"},{"fold":["t","d","o"],"as":["s","v"]}],
  "mark":{"type":"line","stroke":"black","strokeWidth":1.1,"invalid":"break-paths-show-domains"},
  "encoding":{
   "x":{"field":"x","type":"quantitative","scale":{"domain":[0,2],"nice":false},"axis":{"orient":"bottom","values":[0,0.1,0.2,0.3,0.4,0.5,0.6,0.7,0.8,0.9,1,1.1,1.2,1.3,1.4,1.5,1.6,1.7,1.8,1.9,2],"tickSize":{"condition":{"test":"abs(datum.value*2-round(datum.value*2))<0.01","value":-5},"value":-2.5},"labels":false,"title":null}},
   "y":{"field":"v","type":"quantitative","scale":{"domain":[0,30],"nice":false},"axis":{"orient":"left","values":[0,1,2,3,4,5,6,7,8,9,10,11,12,13,14,15,16,17,18,19,20,21,22,23,24,25,26,27,28,29,30],"tickSize":{"condition":{"test":"datum.value%5==0","value":-5},"value":-2.5},"labelExpr":"datum.value%5==0?format(datum.value,'d'):''","labelPadding":9,"title":"Polarization %","titleX":-22}},
   "strokeDash":{"field":"s","type":"nominal","scale":{"domain":["t","d","o"],"range":[[1,0],[5,3],[1,2]]},"legend":null}}},
 {"data":{"name":"cv"},"transform":[{"filter":"datum.p=='a'&&datum.r=='q'"}],"mark":{"type":"point","opacity":0},
  "encoding":{
   "x":{"field":"x","type":"quantitative","scale":{"domain":[0,2],"nice":false},"axis":{"orient":"top","values":[0,0.1,0.2,0.3,0.4,0.5,0.6,0.7,0.8,0.9,1,1.1,1.2,1.3,1.4,1.5,1.6,1.7,1.8,1.9,2],"tickSize":{"condition":{"test":"abs(datum.value*2-round(datum.value*2))<0.01","value":-5},"value":-2.5},"labels":false,"title":null}},
   "y":{"field":"t","type":"quantitative","scale":{"domain":[0,30],"nice":false},"axis":{"orient":"right","values":[0,1,2,3,4,5,6,7,8,9,10,11,12,13,14,15,16,17,18,19,20,21,22,23,24,25,26,27,28,29,30],"tickSize":{"condition":{"test":"datum.value%5==0","value":-5},"value":-2.5},"labels":false,"title":null}}}}
]},
{"width":103,"height":78,"layer":[
 {"data":{"name":"cv"},"transform":[{"filter":"datum.p=='b'&&datum.r=='q'"},{"fold":["t","d","o"],"as":["s","v"]}],
  "mark":{"type":"line","stroke":"black","strokeWidth":1.1,"invalid":"break-paths-show-domains"},
  "encoding":{
   "x":{"field":"x","type":"quantitative","scale":{"domain":[0,2],"nice":false},"axis":{"orient":"bottom","values":[0,0.1,0.2,0.3,0.4,0.5,0.6,0.7,0.8,0.9,1,1.1,1.2,1.3,1.4,1.5,1.6,1.7,1.8,1.9,2],"tickSize":{"condition":{"test":"abs(datum.value*2-round(datum.value*2))<0.01","value":-5},"value":-2.5},"labels":false,"title":null}},
   "y":{"field":"v","type":"quantitative","scale":{"domain":[0,30],"nice":false},"axis":{"orient":"left","values":[0,1,2,3,4,5,6,7,8,9,10,11,12,13,14,15,16,17,18,19,20,21,22,23,24,25,26,27,28,29,30],"tickSize":{"condition":{"test":"datum.value%5==0","value":-5},"value":-2.5},"labels":false,"title":null}},
   "strokeDash":{"field":"s","type":"nominal","scale":{"domain":["t","d","o"],"range":[[1,0],[5,3],[1,2]]},"legend":null}}},
 {"data":{"name":"cv"},"transform":[{"filter":"datum.p=='b'&&datum.r=='q'"}],"mark":{"type":"point","opacity":0},
  "encoding":{
   "x":{"field":"x","type":"quantitative","scale":{"domain":[0,2],"nice":false},"axis":{"orient":"top","values":[0,0.1,0.2,0.3,0.4,0.5,0.6,0.7,0.8,0.9,1,1.1,1.2,1.3,1.4,1.5,1.6,1.7,1.8,1.9,2],"tickSize":{"condition":{"test":"abs(datum.value*2-round(datum.value*2))<0.01","value":-5},"value":-2.5},"labels":false,"title":null}},
   "y":{"field":"t","type":"quantitative","scale":{"domain":[0,30],"nice":false},"axis":{"orient":"right","values":[0,1,2,3,4,5,6,7,8,9,10,11,12,13,14,15,16,17,18,19,20,21,22,23,24,25,26,27,28,29,30],"tickSize":{"condition":{"test":"datum.value%5==0","value":-5},"value":-2.5},"labels":false,"title":null}}}}
]},
{"width":103,"height":78,"layer":[
 {"data":{"name":"cv"},"transform":[{"filter":"datum.p=='c'&&datum.r=='q'"},{"fold":["t","d","o"],"as":["s","v"]}],
  "mark":{"type":"line","stroke":"black","strokeWidth":1.1,"invalid":"break-paths-show-domains"},
  "encoding":{
   "x":{"field":"x","type":"quantitative","scale":{"domain":[0,2],"nice":false},"axis":{"orient":"bottom","values":[0,0.1,0.2,0.3,0.4,0.5,0.6,0.7,0.8,0.9,1,1.1,1.2,1.3,1.4,1.5,1.6,1.7,1.8,1.9,2],"tickSize":{"condition":{"test":"abs(datum.value*2-round(datum.value*2))<0.01","value":-5},"value":-2.5},"labels":false,"title":null}},
   "y":{"field":"v","type":"quantitative","scale":{"domain":[0,30],"nice":false},"axis":{"orient":"left","values":[0,1,2,3,4,5,6,7,8,9,10,11,12,13,14,15,16,17,18,19,20,21,22,23,24,25,26,27,28,29,30],"tickSize":{"condition":{"test":"datum.value%5==0","value":-5},"value":-2.5},"labels":false,"title":null}},
   "strokeDash":{"field":"s","type":"nominal","scale":{"domain":["t","d","o"],"range":[[1,0],[5,3],[1,2]]},"legend":null}}},
 {"data":{"name":"cv"},"transform":[{"filter":"datum.p=='c'&&datum.r=='q'"}],"mark":{"type":"point","opacity":0},
  "encoding":{
   "x":{"field":"x","type":"quantitative","scale":{"domain":[0,2],"nice":false},"axis":{"orient":"top","values":[0,0.1,0.2,0.3,0.4,0.5,0.6,0.7,0.8,0.9,1,1.1,1.2,1.3,1.4,1.5,1.6,1.7,1.8,1.9,2],"tickSize":{"condition":{"test":"abs(datum.value*2-round(datum.value*2))<0.01","value":-5},"value":-2.5},"labels":false,"title":null}},
   "y":{"field":"t","type":"quantitative","scale":{"domain":[0,30],"nice":false},"axis":{"orient":"right","values":[0,1,2,3,4,5,6,7,8,9,10,11,12,13,14,15,16,17,18,19,20,21,22,23,24,25,26,27,28,29,30],"tickSize":{"condition":{"test":"datum.value%5==0","value":-5},"value":-2.5},"labels":false,"title":null}}}}
]},
{"width":103,"height":78,"layer":[
 {"data":{"name":"cv"},"transform":[{"filter":"datum.p=='d'&&datum.r=='q'"},{"fold":["t","d","o"],"as":["s","v"]}],
  "mark":{"type":"line","stroke":"black","strokeWidth":1.1,"invalid":"break-paths-show-domains"},
  "encoding":{
   "x":{"field":"x","type":"quantitative","scale":{"domain":[0,2],"nice":false},"axis":{"orient":"bottom","values":[0,0.1,0.2,0.3,0.4,0.5,0.6,0.7,0.8,0.9,1,1.1,1.2,1.3,1.4,1.5,1.6,1.7,1.8,1.9,2],"tickSize":{"condition":{"test":"abs(datum.value*2-round(datum.value*2))<0.01","value":-5},"value":-2.5},"labels":false,"title":null}},
   "y":{"field":"v","type":"quantitative","scale":{"domain":[0,30],"nice":false},"axis":{"orient":"left","values":[0,1,2,3,4,5,6,7,8,9,10,11,12,13,14,15,16,17,18,19,20,21,22,23,24,25,26,27,28,29,30],"tickSize":{"condition":{"test":"datum.value%5==0","value":-5},"value":-2.5},"labels":false,"title":null}},
   "strokeDash":{"field":"s","type":"nominal","scale":{"domain":["t","d","o"],"range":[[1,0],[5,3],[1,2]]},"legend":null}}},
 {"data":{"name":"cv"},"transform":[{"filter":"datum.p=='d'&&datum.r=='q'"}],"mark":{"type":"point","opacity":0},
  "encoding":{
   "x":{"field":"x","type":"quantitative","scale":{"domain":[0,2],"nice":false},"axis":{"orient":"top","values":[0,0.1,0.2,0.3,0.4,0.5,0.6,0.7,0.8,0.9,1,1.1,1.2,1.3,1.4,1.5,1.6,1.7,1.8,1.9,2],"tickSize":{"condition":{"test":"abs(datum.value*2-round(datum.value*2))<0.01","value":-5},"value":-2.5},"labels":false,"title":null}},
   "y":{"field":"t","type":"quantitative","scale":{"domain":[0,30],"nice":false},"axis":{"orient":"right","values":[0,1,2,3,4,5,6,7,8,9,10,11,12,13,14,15,16,17,18,19,20,21,22,23,24,25,26,27,28,29,30],"tickSize":{"condition":{"test":"datum.value%5==0","value":-5},"value":-2.5},"labels":false,"title":null}}}}
]},

{"width":103,"height":73,"layer":[
 {"data":{"name":"cv"},"transform":[{"filter":"datum.p=='a'&&datum.r=='a'"},{"fold":["t","d","o"],"as":["s","v"]}],
  "mark":{"type":"line","stroke":"black","strokeWidth":1.1,"invalid":"break-paths-show-domains"},
  "encoding":{
   "x":{"field":"x","type":"quantitative","scale":{"domain":[0,2],"nice":false},"axis":{"orient":"bottom","values":[0,0.1,0.2,0.3,0.4,0.5,0.6,0.7,0.8,0.9,1,1.1,1.2,1.3,1.4,1.5,1.6,1.7,1.8,1.9,2],"tickSize":{"condition":{"test":"abs(datum.value*2-round(datum.value*2))<0.01","value":-5},"value":-2.5},"labelExpr":"abs(datum.value*2-round(datum.value*2))<0.01&&datum.value<1.99?format(datum.value,'~g'):''","labelPadding":12.5,"title":"Phase","titleBaseline":"top","titleY":18}},
   "y":{"field":"v","type":"quantitative","scale":{"domain":[-100,100],"nice":false},"axis":{"orient":"left","values":[-90,-80,-70,-60,-50,-40,-30,-20,-10,0,10,20,30,40,50,60,70,80,90],"tickSize":{"condition":{"test":"datum.value%50==0","value":-5},"value":-2.5},"labelExpr":"datum.value%50==0?format(datum.value,'d'):''","labelPadding":9,"title":"PA (deg)","titleX":-22}},
   "strokeDash":{"field":"s","type":"nominal","scale":{"domain":["t","d","o"],"range":[[1,0],[5,3],[1,2]]},"legend":null}}},
 {"data":{"name":"cv"},"transform":[{"filter":"datum.p=='a'&&datum.r=='a'"}],"mark":{"type":"point","opacity":0},
  "encoding":{
   "x":{"field":"x","type":"quantitative","scale":{"domain":[0,2],"nice":false},"axis":{"orient":"top","values":[0,0.1,0.2,0.3,0.4,0.5,0.6,0.7,0.8,0.9,1,1.1,1.2,1.3,1.4,1.5,1.6,1.7,1.8,1.9,2],"tickSize":{"condition":{"test":"abs(datum.value*2-round(datum.value*2))<0.01","value":-5},"value":-2.5},"labels":false,"title":null}},
   "y":{"field":"t","type":"quantitative","scale":{"domain":[-100,100],"nice":false},"axis":{"orient":"right","values":[-90,-80,-70,-60,-50,-40,-30,-20,-10,0,10,20,30,40,50,60,70,80,90],"tickSize":{"condition":{"test":"datum.value%50==0","value":-5},"value":-2.5},"labels":false,"title":null}}}}
]},
{"width":103,"height":73,"layer":[
 {"data":{"name":"cv"},"transform":[{"filter":"datum.p=='b'&&datum.r=='a'"},{"fold":["t","d","o"],"as":["s","v"]}],
  "mark":{"type":"line","stroke":"black","strokeWidth":1.1,"invalid":"break-paths-show-domains"},
  "encoding":{
   "x":{"field":"x","type":"quantitative","scale":{"domain":[0,2],"nice":false},"axis":{"orient":"bottom","values":[0,0.1,0.2,0.3,0.4,0.5,0.6,0.7,0.8,0.9,1,1.1,1.2,1.3,1.4,1.5,1.6,1.7,1.8,1.9,2],"tickSize":{"condition":{"test":"abs(datum.value*2-round(datum.value*2))<0.01","value":-5},"value":-2.5},"labelExpr":"abs(datum.value*2-round(datum.value*2))<0.01&&datum.value<1.99?format(datum.value,'~g'):''","labelPadding":12.5,"title":"Phase","titleBaseline":"top","titleY":18}},
   "y":{"field":"v","type":"quantitative","scale":{"domain":[-100,100],"nice":false},"axis":{"orient":"left","values":[-90,-80,-70,-60,-50,-40,-30,-20,-10,0,10,20,30,40,50,60,70,80,90],"tickSize":{"condition":{"test":"datum.value%50==0","value":-5},"value":-2.5},"labels":false,"title":null}},
   "strokeDash":{"field":"s","type":"nominal","scale":{"domain":["t","d","o"],"range":[[1,0],[5,3],[1,2]]},"legend":null}}},
 {"data":{"name":"cv"},"transform":[{"filter":"datum.p=='b'&&datum.r=='a'"}],"mark":{"type":"point","opacity":0},
  "encoding":{
   "x":{"field":"x","type":"quantitative","scale":{"domain":[0,2],"nice":false},"axis":{"orient":"top","values":[0,0.1,0.2,0.3,0.4,0.5,0.6,0.7,0.8,0.9,1,1.1,1.2,1.3,1.4,1.5,1.6,1.7,1.8,1.9,2],"tickSize":{"condition":{"test":"abs(datum.value*2-round(datum.value*2))<0.01","value":-5},"value":-2.5},"labels":false,"title":null}},
   "y":{"field":"t","type":"quantitative","scale":{"domain":[-100,100],"nice":false},"axis":{"orient":"right","values":[-90,-80,-70,-60,-50,-40,-30,-20,-10,0,10,20,30,40,50,60,70,80,90],"tickSize":{"condition":{"test":"datum.value%50==0","value":-5},"value":-2.5},"labels":false,"title":null}}}}
]},
{"width":103,"height":73,"layer":[
 {"data":{"name":"cv"},"transform":[{"filter":"datum.p=='c'&&datum.r=='a'"},{"fold":["t","d","o"],"as":["s","v"]}],
  "mark":{"type":"line","stroke":"black","strokeWidth":1.1,"invalid":"break-paths-show-domains"},
  "encoding":{
   "x":{"field":"x","type":"quantitative","scale":{"domain":[0,2],"nice":false},"axis":{"orient":"bottom","values":[0,0.1,0.2,0.3,0.4,0.5,0.6,0.7,0.8,0.9,1,1.1,1.2,1.3,1.4,1.5,1.6,1.7,1.8,1.9,2],"tickSize":{"condition":{"test":"abs(datum.value*2-round(datum.value*2))<0.01","value":-5},"value":-2.5},"labelExpr":"abs(datum.value*2-round(datum.value*2))<0.01&&datum.value<1.99?format(datum.value,'~g'):''","labelPadding":12.5,"title":"Phase","titleBaseline":"top","titleY":18}},
   "y":{"field":"v","type":"quantitative","scale":{"domain":[-100,100],"nice":false},"axis":{"orient":"left","values":[-90,-80,-70,-60,-50,-40,-30,-20,-10,0,10,20,30,40,50,60,70,80,90],"tickSize":{"condition":{"test":"datum.value%50==0","value":-5},"value":-2.5},"labels":false,"title":null}},
   "strokeDash":{"field":"s","type":"nominal","scale":{"domain":["t","d","o"],"range":[[1,0],[5,3],[1,2]]},"legend":null}}},
 {"data":{"name":"cv"},"transform":[{"filter":"datum.p=='c'&&datum.r=='a'"}],"mark":{"type":"point","opacity":0},
  "encoding":{
   "x":{"field":"x","type":"quantitative","scale":{"domain":[0,2],"nice":false},"axis":{"orient":"top","values":[0,0.1,0.2,0.3,0.4,0.5,0.6,0.7,0.8,0.9,1,1.1,1.2,1.3,1.4,1.5,1.6,1.7,1.8,1.9,2],"tickSize":{"condition":{"test":"abs(datum.value*2-round(datum.value*2))<0.01","value":-5},"value":-2.5},"labels":false,"title":null}},
   "y":{"field":"t","type":"quantitative","scale":{"domain":[-100,100],"nice":false},"axis":{"orient":"right","values":[-90,-80,-70,-60,-50,-40,-30,-20,-10,0,10,20,30,40,50,60,70,80,90],"tickSize":{"condition":{"test":"datum.value%50==0","value":-5},"value":-2.5},"labels":false,"title":null}}}}
]},
{"width":103,"height":73,"layer":[
 {"data":{"name":"cv"},"transform":[{"filter":"datum.p=='d'&&datum.r=='a'"},{"fold":["t","d","o"],"as":["s","v"]}],
  "mark":{"type":"line","stroke":"black","strokeWidth":1.1,"invalid":"break-paths-show-domains"},
  "encoding":{
   "x":{"field":"x","type":"quantitative","scale":{"domain":[0,2],"nice":false},"axis":{"orient":"bottom","values":[0,0.1,0.2,0.3,0.4,0.5,0.6,0.7,0.8,0.9,1,1.1,1.2,1.3,1.4,1.5,1.6,1.7,1.8,1.9,2],"tickSize":{"condition":{"test":"abs(datum.value*2-round(datum.value*2))<0.01","value":-5},"value":-2.5},"labelExpr":"abs(datum.value*2-round(datum.value*2))<0.01?format(datum.value,'~g'):''","labelPadding":12.5,"title":"Phase","titleBaseline":"top","titleY":18}},
   "y":{"field":"v","type":"quantitative","scale":{"domain":[-100,100],"nice":false},"axis":{"orient":"left","values":[-90,-80,-70,-60,-50,-40,-30,-20,-10,0,10,20,30,40,50,60,70,80,90],"tickSize":{"condition":{"test":"datum.value%50==0","value":-5},"value":-2.5},"labels":false,"title":null}},
   "strokeDash":{"field":"s","type":"nominal","scale":{"domain":["t","d","o"],"range":[[1,0],[5,3],[1,2]]},"legend":null}}},
 {"data":{"name":"cv"},"transform":[{"filter":"datum.p=='d'&&datum.r=='a'"}],"mark":{"type":"point","opacity":0},
  "encoding":{
   "x":{"field":"x","type":"quantitative","scale":{"domain":[0,2],"nice":false},"axis":{"orient":"top","values":[0,0.1,0.2,0.3,0.4,0.5,0.6,0.7,0.8,0.9,1,1.1,1.2,1.3,1.4,1.5,1.6,1.7,1.8,1.9,2],"tickSize":{"condition":{"test":"abs(datum.value*2-round(datum.value*2))<0.01","value":-5},"value":-2.5},"labels":false,"title":null}},
   "y":{"field":"t","type":"quantitative","scale":{"domain":[-100,100],"nice":false},"axis":{"orient":"right","values":[-90,-80,-70,-60,-50,-40,-30,-20,-10,0,10,20,30,40,50,60,70,80,90],"tickSize":{"condition":{"test":"datum.value%50==0","value":-5},"value":-2.5},"labels":false,"title":null}}}}
]}
],
"config":{
 "view":{"stroke":null},
 "font":"DejaVu Serif",
 "axis":{"domainColor":"black","domainWidth":1,"tickColor":"black","tickWidth":1,"labelColor":"black","labelFont":"DejaVu Serif","labelFontSize":8,"titleFont":"DejaVu Serif","titleFontSize":8.5,"titleFontWeight":"normal","titleColor":"black","grid":false,"labelFlush":false,"labelOverlap":false,"labelBound":false}
}
}
